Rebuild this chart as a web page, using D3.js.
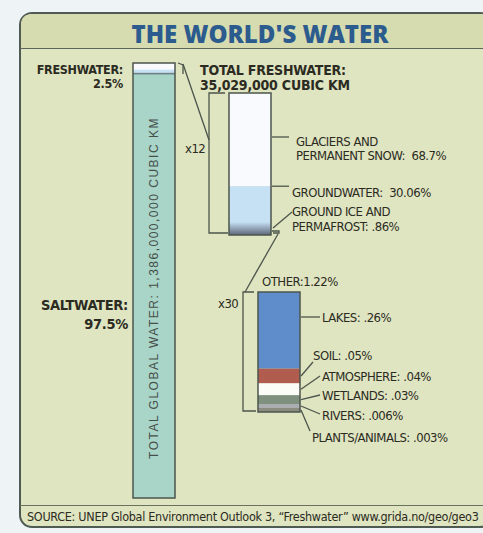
<!DOCTYPE html>
<html>
<head>
<meta charset="utf-8">
<script src="https://cdn.jsdelivr.net/npm/d3@7"></script>
<style>
  body { margin: 0; background: #eef4f5; }
  svg { display: block; }
  .lbl { font-family: "Liberation Sans Narrow", "DejaVu Sans Condensed", "Roboto Condensed", "Liberation Sans", sans-serif; fill: #2b2b22; }
  .bold { font-weight: bold; }
</style>
</head>
<body>
<div id="chart"></div>
<script>
// data
var totalCats = ['Freshwater', 'Saltwater'];
var totalPct = [2.5, 97.5];
var freshCats = ['Glaciers and permanent snow', 'Groundwater', 'Ground ice and permafrost', 'Other'];
var freshPct = [68.7, 30.06, 0.86, 1.22];
var otherCats = ['Lakes', 'Soil', 'Atmosphere', 'Wetlands', 'Rivers', 'Plants/animals'];
var otherPct = [0.26, 0.05, 0.04, 0.03, 0.006, 0.003];

var freshLabels = [['GLACIERS AND', 'PERMANENT SNOW:\u00a0 68.7%'], ['GROUNDWATER:\u00a0 30.06%'], ['GROUND ICE AND', 'PERMAFROST: .86%']];
var otherLabels = ['LAKES: .26%', 'SOIL: .05%', 'ATMOSPHERE: .04%', 'WETLANDS: .03%', 'RIVERS: .006%', 'PLANTS/ANIMALS: .003%'];

var totalColors = ['#f6f9fb', '#a9d4c8'];
var freshColors = ['#f8fafd', '#c6e0f4', '#8a98aa', '#5d6678'];
var otherColors = ['#5f8ccb', '#b05c4e', '#fbfbf8', '#80907f', '#aaaeb0', '#8a8c80'];

var W = 483, H = 533;
var ink = '#4c554c';

var svg = d3.select('#chart').append('svg')
  .attr('width', W).attr('height', H);

// panel (runs off the right edge)
var panel = svg.append('g');
panel.append('rect')
  .attr('x', 20).attr('y', 13).attr('width', 472).attr('height', 514)
  .attr('rx', 12)
  .attr('fill', '#dfe4c1')
  .attr('stroke', '#4f5a52').attr('stroke-width', 2);
panel.append('path')
  .attr('d', 'M21,48 L21,25 Q21,14 33,14 L479,14 Q491,14 491,25 L491,48 Z')
  .attr('fill', '#d7dbb0');
panel.append('line')
  .attr('x1', 20).attr('x2', 483).attr('y1', 48.5).attr('y2', 48.5)
  .attr('stroke', '#5c665a').attr('stroke-width', 1.2);
panel.append('line')
  .attr('x1', 20).attr('x2', 483).attr('y1', 505.5).attr('y2', 505.5)
  .attr('stroke', '#6a725f').attr('stroke-width', 1);

svg.append('text')
  .attr('x', 260).attr('y', 43)
  .attr('text-anchor', 'middle')
  .style('font-family', '"Open Sans", "Liberation Sans", sans-serif')
  .style('font-weight', 800)
  .style('font-size', '24px')
  .attr('fill', '#2c5b8d')
  .text("THE WORLD'S WATER");

// stack helper: tiny values get a minimum height so they stay visible
var stack = function (values, y0, y1, minPx) {
  var full = d3.scaleLinear().domain([0, d3.sum(values)]).range([0, y1 - y0]);
  var small = values.map(function (v) { return full(v) < minPx; });
  var fixed = d3.sum(small, function (s) { return s ? minPx : 0; });
  var big = d3.sum(values, function (v, i) { return small[i] ? 0 : v; });
  var y = d3.scaleLinear().domain([0, big]).range([0, y1 - y0 - fixed]);
  var pos = y0;
  return values.map(function (v, i) {
    var h = small[i] ? minPx : y(v);
    var seg = { top: pos, bottom: pos + h, value: v, index: i };
    pos += h;
    return seg;
  });
};

// big bar
var bigX = d3.scaleBand().domain(['total']).range([133, 175]);
var bigY = d3.scaleLinear().domain([0, 100]).range([63, 498]);
var bigSegs = [];
var acc = 0;
totalPct.forEach(function (v, i) {
  bigSegs.push({ top: bigY(acc), bottom: bigY(acc + v), color: totalColors[i] });
  acc += v;
});
// freshwater portion of the big bar, split by its own parts
var freshInBig = stack(freshPct, bigSegs[0].top, bigSegs[0].bottom, 0.6);

svg.append('g').selectAll('rect.big')
  .data(bigSegs)
  .enter().append('rect')
  .attr('x', bigX('total')).attr('width', bigX.bandwidth())
  .attr('y', function (d) { return d.top; })
  .attr('height', function (d) { return d.bottom - d.top; })
  .attr('fill', function (d) { return d.color; });
svg.append('g').selectAll('rect')
  .data(freshInBig)
  .enter().append('rect')
  .attr('x', bigX('total')).attr('width', bigX.bandwidth())
  .attr('y', function (d) { return d.top; })
  .attr('height', function (d) { return d.bottom - d.top; })
  .attr('fill', function (d) { return freshColors[d.index]; });
svg.append('line')
  .attr('x1', bigX('total')).attr('x2', bigX('total') + bigX.bandwidth())
  .attr('y1', bigSegs[0].bottom).attr('y2', bigSegs[0].bottom)
  .attr('stroke', '#5c7a78').attr('stroke-width', 1);
svg.append('rect')
  .attr('x', bigX('total')).attr('width', bigX.bandwidth())
  .attr('y', bigY(0)).attr('height', bigY(100) - bigY(0))
  .attr('fill', 'none').attr('stroke', ink).attr('stroke-width', 1.5);

svg.append('text')
  .attr('transform', 'translate(' + (bigX('total') + bigX.bandwidth() / 2 + 4) + ',288) rotate(-90)')
  .attr('text-anchor', 'middle')
  .style('font-family', '"Liberation Sans", sans-serif')
  .style('font-size', '12px')
  .style('letter-spacing', '1.5px')
  .attr('fill', '#46504a')
  .text('TOTAL GLOBAL WATER: 1,386,000,000 CUBIC KM');

// left labels
var leftLbl = svg.append('g').attr('class', 'lbl bold').attr('text-anchor', 'end')
  .style('font-size', '12.5px').style('letter-spacing', '-0.3px');
leftLbl.append('text').attr('x', 123).attr('y', 74).text('FRESHWATER:');
leftLbl.append('text').attr('x', 123).attr('y', 88).text('2.5%');
leftLbl.append('text').attr('x', 128).attr('y', 310).style('font-size', '14.5px').text('SALTWATER:');
leftLbl.append('text').attr('x', 128).attr('y', 329).style('font-size', '14.5px').text('97.5%');

// freshwater bar
var freshX = d3.scaleBand().domain(['fresh']).range([229, 271]);
var freshSegs = stack(freshPct, 93, 235, 4);
var defs = svg.append('defs');
var grad = defs.append('linearGradient').attr('id', 'iceGrad')
  .attr('x1', 0).attr('x2', 0).attr('y1', 0).attr('y2', 1);
grad.append('stop').attr('offset', '0%').attr('stop-color', freshColors[1]);
grad.append('stop').attr('offset', '100%').attr('stop-color', freshColors[3]);

svg.append('g').selectAll('rect')
  .data(freshSegs)
  .enter().append('rect')
  .attr('x', freshX('fresh')).attr('width', freshX.bandwidth())
  .attr('y', function (d) { return d.top; })
  .attr('height', function (d) { return d.bottom - d.top; })
  .attr('fill', function (d) { return freshColors[d.index]; });
svg.append('rect')
  .attr('x', freshX('fresh')).attr('width', freshX.bandwidth())
  .attr('y', freshSegs[2].top - 5).attr('height', freshSegs[3].bottom - freshSegs[2].top + 5)
  .attr('fill', 'url(#iceGrad)');
svg.append('rect')
  .attr('x', freshX('fresh')).attr('width', freshX.bandwidth())
  .attr('y', 93).attr('height', 142)
  .attr('fill', 'none').attr('stroke', ink).attr('stroke-width', 1.5);

// other bar
var otherX = d3.scaleBand().domain(['other']).range([258, 300]);
var otherSegs = stack(otherPct, 292, 412, 4);
svg.append('g').selectAll('rect')
  .data(otherSegs)
  .enter().append('rect')
  .attr('x', otherX('other')).attr('width', otherX.bandwidth())
  .attr('y', function (d) { return d.top; })
  .attr('height', function (d) { return d.bottom - d.top; })
  .attr('fill', function (d) { return otherColors[d.index]; });
svg.append('rect')
  .attr('x', otherX('other')).attr('width', otherX.bandwidth())
  .attr('y', 292).attr('height', 120)
  .attr('fill', 'none').attr('stroke', ink).attr('stroke-width', 1.5);

// brackets and connectors
var lines = svg.append('g').attr('fill', 'none').attr('stroke', ink).attr('stroke-width', 1.3);
lines.append('path').attr('d', 'M178,' + bigSegs[0].top + ' L183,' + (bigSegs[0].top + 2) + ' L183,' + bigSegs[0].bottom);
lines.append('path').attr('d', 'M183,' + (bigSegs[0].top + 1) + ' L209,140');
lines.append('path').attr('d', 'M225,93 L209,93 L209,233 L228,233');
lines.append('path').attr('d', 'M272,' + freshSegs[3].top + ' L279,' + freshSegs[3].top + ' L279,' + (freshSegs[3].bottom - 2) + ' L273,' + (freshSegs[3].bottom - 2));
lines.append('path').attr('d', 'M278,' + (freshSegs[3].bottom - 1) + ' L245,292');
lines.append('path').attr('d', 'M254,292 L243,292 L243,411 L256,411');

var lbl = svg.append('g').attr('class', 'lbl')
  .style('font-size', '13px').style('letter-spacing', '-0.5px');

// freshwater leaders and labels
var mid = function (s) { return (s.top + s.bottom) / 2; };
lines.append('path').attr('d', 'M272,137 L289,137');
lines.append('path').attr('d', 'M272,' + freshSegs[1].top + ' L289,' + freshSegs[1].top);
lines.append('path').attr('d', 'M273,' + (freshSegs[2].top + 1) + ' L292,212');
lbl.append('text').attr('x', 296).attr('y', 146).text(freshLabels[0][0]);
lbl.append('text').attr('x', 296).attr('y', 160).text(freshLabels[0][1]);
lbl.append('text').attr('x', 292).attr('y', 197).text(freshLabels[1][0]);
lbl.append('text').attr('x', 292).attr('y', 216).text(freshLabels[2][0]);
lbl.append('text').attr('x', 292).attr('y', 231).text(freshLabels[2][1]);

// other leaders and labels
var otherLblPos = [[322, 322, 317], [313, 360, 362], [322, 381, 376], [322, 400, 395], [322, 420, 414], [312, 442, 431]];
otherSegs.forEach(function (s, i) {
  var p = otherLblPos[i];
  var sy = i === 0 ? p[2] : mid(s);
  var ex = i === 1 ? 313 : (i === 5 ? 310 : 320);
  lines.append('path').attr('d', 'M301,' + sy + ' L' + ex + ',' + p[2]);
  lbl.append('text').attr('x', p[0]).attr('y', p[1]).text(otherLabels[i]);
});
lbl.append('text').attr('x', 262).attr('y', 286).text('OTHER:1.22%');

// scale factors
lbl.append('text').attr('x', 185).attr('y', 153).text('x12');
lbl.append('text').attr('x', 218).attr('y', 308).text('x30');

// total freshwater heading
var head = svg.append('g').attr('class', 'lbl bold').style('font-size', '14px').style('letter-spacing', '-0.2px');
head.append('text').attr('x', 200).attr('y', 75).text('TOTAL FRESHWATER:');
head.append('text').attr('x', 200).attr('y', 90).text('35,029,000 CUBIC KM');

// source
svg.append('text').attr('class', 'lbl')
  .attr('x', 27).attr('y', 521)
  .style('font-size', '12.5px').style('letter-spacing', '-0.3px')
  .text('SOURCE: UNEP Global Environment Outlook 3, \u201cFreshwater\u201d www.grida.no/geo/geo3');
</script>
</body>
</html>
